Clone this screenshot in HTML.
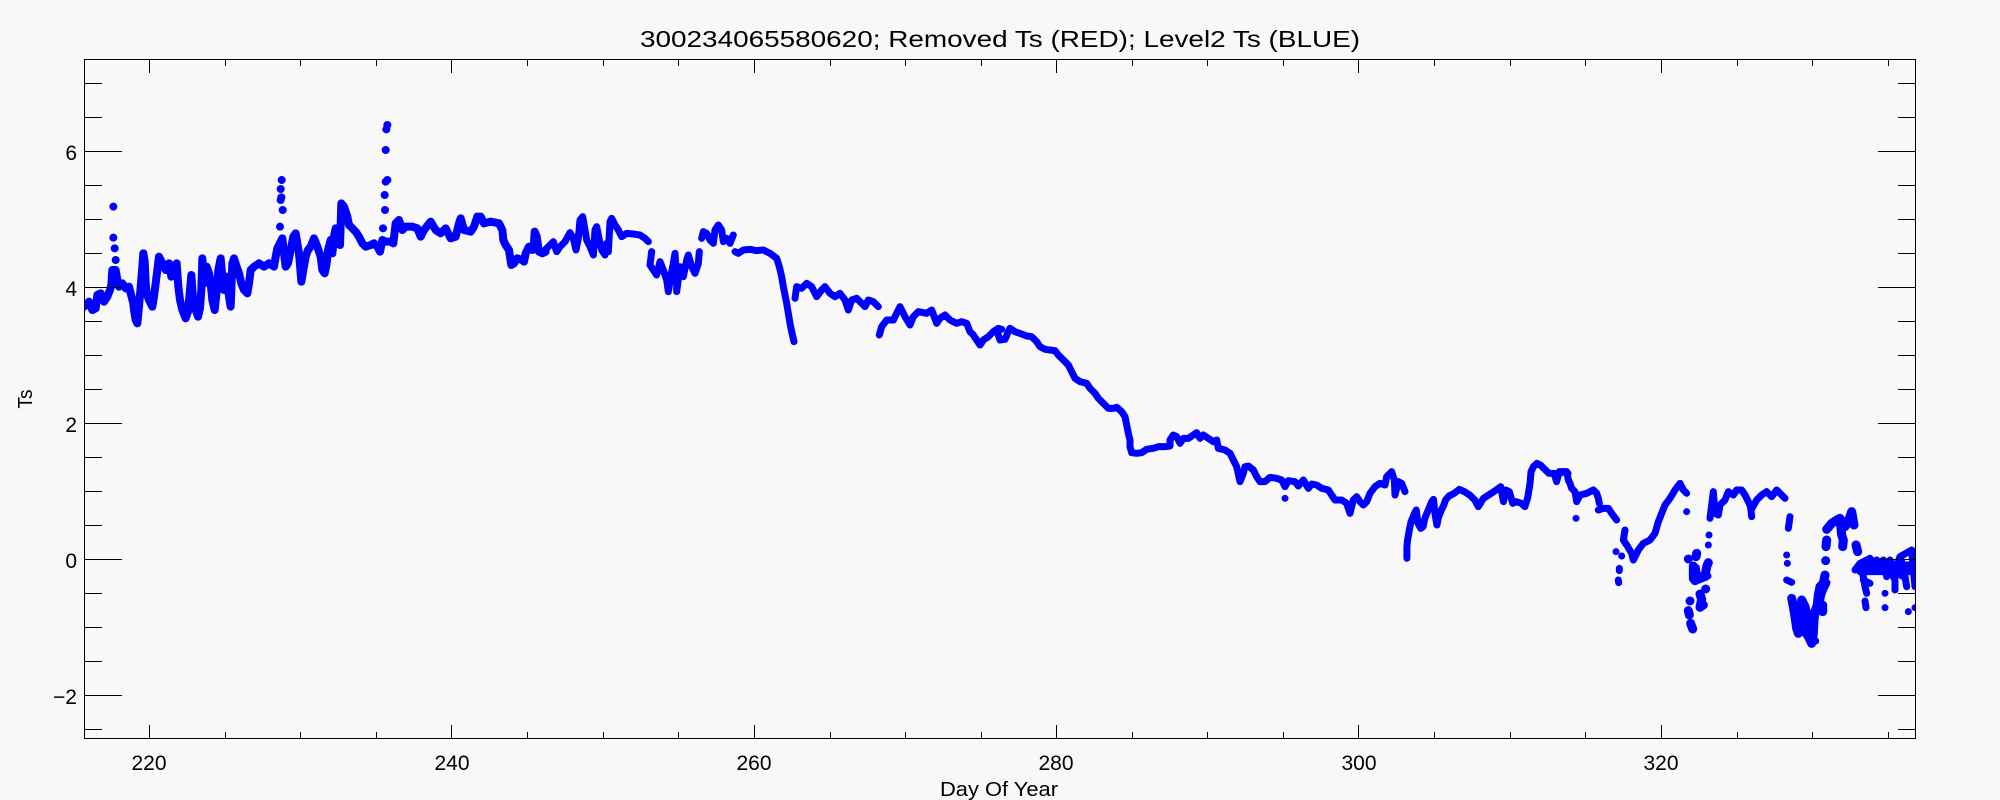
<!DOCTYPE html>
<html>
<head>
<meta charset="utf-8">
<style>
html,body{margin:0;padding:0;background:#f8f8f8;}
svg{display:block;}
text{font-family:"Liberation Sans",sans-serif;fill:#000;}
.d{fill:none;stroke:#0000ff;stroke-width:7;stroke-linecap:round;stroke-linejoin:round;}
.d8{fill:none;stroke:#0000ff;stroke-width:8;stroke-linecap:round;stroke-linejoin:round;}
.d9{fill:none;stroke:#0000ff;stroke-width:9;stroke-linecap:round;stroke-linejoin:round;}
</style>
</head>
<body>
<svg width="2000" height="800" viewBox="0 0 2000 800" xmlns="http://www.w3.org/2000/svg">
<defs>
<clipPath id="pc"><rect x="84" y="59" width="1832" height="680"/></clipPath>
</defs>
<rect x="0" y="0" width="2000" height="800" fill="#f8f8f8"/>

<text x="1000" y="47" font-size="23" text-anchor="middle" textLength="720" lengthAdjust="spacingAndGlyphs">300234065580620; Removed Ts (RED); Level2 Ts (BLUE)</text>

<g clip-path="url(#pc)">
<!-- segment 1 -->
<g transform="translate(84,110) scale(0.33333,0.33333)">
<path class="d8" vector-effect="non-scaling-stroke" d="M0,590 L15,575 25,600 35,595 40,555 50,550 60,575 70,560 78,540 82,525 85,480 95,480 100,510 105,530 115,520 125,535 135,530 140,550 148,580 150,600 155,630 160,640 165,590 170,530 175,470 178,430 182,455 185,520 188,550 195,570 200,580 205,590 210,560 215,520 220,480 225,440 235,460 245,480 255,460 262,500 270,480 278,460 283,530 288,570 295,600 305,625 312,605 318,540 322,495 328,580 335,600 342,620 348,595 352,540 355,445 360,520 368,470 375,490 380,520 385,570 392,600 398,545 403,480 410,445 415,500 420,540 428,500 435,560 440,590 445,460 450,445 458,470 465,490 472,520 480,540 490,550 495,520 500,480 510,470 525,460 540,470 555,460 570,470 575,440 580,415 595,385 600,430 605,470 612,460 620,420 628,380 635,370 640,400 645,430 650,490 652,515 658,480 665,440 672,420 680,410 690,385 700,410 710,440 715,480 722,490 728,460 732,420 740,390 745,430 750,380 755,355 762,380 768,405 772,280 780,290 790,320 795,345 805,355 815,365 825,380 835,400 845,410 860,405 870,400 880,410 888,425 895,390 905,395 920,395 928,400 935,340 945,330 955,360 965,350 985,350 1000,355 1010,380 1020,360 1040,335 1055,360 1070,370 1085,355 1100,385 1115,380 1125,340 1130,325 1140,360 1160,365 1170,350 1180,320 1190,320 1200,340 1220,335 1245,340 1255,360 1258,390 1265,405 1275,420 1278,440 1282,465 1290,460 1300,445 1315,450 1320,455 1325,430 1335,410 1345,420 1350,400 1352,365 1358,380 1365,425 1375,430 1385,425
M88,290h0.1 M88,383h0.1 M92,415h0.1 M95,450h0.1
M588,350h0.1 M590,270h0.1 M592,262h0.1 M590,237h0.1 M593,210h0.1 M596,300h0.1
M897,355h0.1 M902,255h0.1 M903,300h0.1 M905,215h0.1 M910,210h0.1 M905,120h0.1 M907,58h0.1 M910,45h0.1"/>
</g>
<!-- segment 2 -->
<g transform="translate(540,180) scale(0.33333,0.33333)">
<path class="d" vector-effect="non-scaling-stroke" d="M10,215 L25,200 40,185 50,215 60,200 75,185 90,158 100,175 108,210 115,175 120,120 128,110 135,150 140,180 150,200 160,225 165,150 170,140 178,180 185,210 195,225 200,190 205,215 210,125 215,115 225,135 235,150 245,170 260,160 280,162 300,165 315,175 325,185
M335,215 L330,255 340,270 350,285 360,245 370,270 380,300 385,335 392,290 400,250 405,220 410,300 410,335 420,260 430,290 440,240 445,225 455,260 465,280 475,250 478,215
M485,175 L490,155 500,160 510,180 520,190 525,150 535,135 545,150 550,185 560,175 570,190 580,165
M585,215 L595,220 610,210 630,208 650,212 670,210 690,220 710,235 718,260 725,290 730,320 735,345 740,370 745,400 750,430 755,455 762,485
M765,355 L770,320 785,325 800,310 815,320 830,350 845,330 855,320 870,340 885,350 900,340 915,360 925,390 935,360 950,355 965,370 975,380 985,360 1000,365 1015,380
M1018,465 L1025,440 1040,420 1060,420 1070,400 1080,380 1095,410 1110,435 1120,410 1135,395 1160,400 1175,390 1190,430 1200,415 1215,405 1230,420 1250,430 1265,425 1280,430 1290,455 1300,465 1310,480 1320,495 1330,480 1345,470 1360,455 1375,445 1385,448"/>
</g>
<!-- segment 3 -->
<g transform="translate(995,310) scale(0.33333,0.33333)">
<path class="d" vector-effect="non-scaling-stroke" d="M5,60 L15,90 30,88 40,65 45,55 60,65 80,72 95,78 110,80 125,95 135,110 150,118 165,120 180,122 190,135 205,150 220,165 230,185 240,205 255,215 275,220 285,235 300,250 310,265 325,280 340,295 355,295 365,292 380,305 390,320 395,345 400,370 405,390 405,410 410,428 425,430 440,428 455,418 475,415 490,410 510,410 525,408 525,390 535,375 545,380 555,400 565,385 580,385 595,375 605,368 615,385 625,375 640,385 655,395 665,390 670,415 690,420 705,430 715,450 725,470 735,515 745,490 750,470 760,468 775,480 785,500 795,515 810,515 825,502 845,505 860,510 870,530 880,512 900,515 910,528 925,510 940,535 950,522 965,525 980,535 1000,540 1010,555 1020,570 1040,570 1055,580 1065,610 1075,570 1085,560 1095,575 1105,585 1115,575 1125,550 1140,530 1155,520 1170,525 1175,500 1190,485 1198,510 1200,555 1210,515 1220,520 1230,545
M870,565h0.1"/>
</g>
<!-- segment 4 -->
<g transform="translate(1380,440) scale(0.34483,0.33333)">
<path class="d" vector-effect="non-scaling-stroke" d="M78,355 L78,320 80,300 85,270 90,245 100,220 105,210 110,250 118,265 125,260 130,235 140,210 150,185 155,178 160,225 165,255 170,230 178,210 185,195 190,180 200,168 215,160 230,148 245,155 260,165 275,180 285,200 300,175 315,165 330,155 350,140 358,185 365,150 375,155 385,190 395,185 410,190 420,200 428,175 432,150 435,130 438,95 445,80 455,70 465,75 475,85 490,100 505,100 512,125 520,95 535,95 545,100"/>
</g>
<!-- segment 5 -->
<g transform="translate(1560,440) scale(0.33333,0.33333)">
<path class="d" vector-effect="non-scaling-stroke" d="M0,100 L10,95 20,95 25,120 30,130 35,145 45,155 50,185 60,165 80,160 100,150 110,160 115,175 118,190 M115,210 L130,205 145,205 155,220 170,240
M48,235h0.1
M195,270 L190,300 200,315 215,340 220,360 235,330 250,310 270,300 285,280 295,245 305,220 315,195 330,175 345,150 360,130 370,150 380,160
M380,215h0.1
M168,335h0.1 M185,348h0.1 M178,385 L178,392 M175,420 L176,428
M445,315h0.1 M447,285h0.1 M450,235 L455,195 460,155 465,220 475,225 480,195 495,180 505,155 520,165 530,150 545,150 555,165 570,195 573,210 575,230 M573,210 L590,180 605,165 620,155 635,170 650,150 665,165 675,175
M690,230 L685,265 M680,345h0.1 M682,370h0.1 M680,420 L695,427
M885,390 L900,370 910,410 915,440 920,460 M915,483 L918,503
M900,370 L930,355 950,380 970,360 980,410 M975,460h0.1 M975,503h0.1
M930,380 L950,360 970,385 990,360 1005,390 1020,350 1030,380 1040,440 M1045,515h0.1
M995,400 L1005,420 1005,450 M1020,350 L1055,330 1060,390 1065,440 M1065,503h0.1
M900,395 L1068,395 M905,375 L1068,375 M910,420 L930,430 M1010,400 L1030,410"/>
<path class="d9" vector-effect="non-scaling-stroke" d="M385,357h0.1 M410,340 L408,350 M400,378 L400,415 405,422 420,410 435,410 440,380 445,368 M437,447h0.1 M420,462 L425,478 420,502 430,495 M390,483h0.1 M385,512 L388,525 M392,550 L398,567
M695,475 L700,500 705,530 710,565 715,580 720,540 725,480 735,500 745,540 740,580 750,600 755,610 760,580 762,540 765,515 772,495 775,465 780,440 790,430 795,405 M788,495 L788,515 M797,362h0.1 M798,320 L800,300 M800,268 L815,250 830,240 840,235 845,285 850,300 848,320 M840,235 L855,260 865,245 875,215 882,255 M888,315 L893,335"/>
<path class="d" vector-effect="non-scaling-stroke" transform="translate(9,3)" d="M400,380 L405,418 420,412 435,405 M700,505 L708,560 718,575 M738,520 L748,590 758,600 M765,510 L778,455 792,425"/>
</g>
</g>

<!-- frame -->
<rect x="84.5" y="59.5" width="1831" height="679" fill="none" stroke="#000" stroke-width="1"/>

<!-- ticks -->
<path stroke="#000" stroke-width="1" fill="none" d="
M149.5,739V725 M451.5,739V725 M754.5,739V725 M1056.5,739V725 M1358.5,739V725 M1661.5,739V725
M149.5,59V73 M451.5,59V73 M754.5,59V73 M1056.5,59V73 M1358.5,59V73 M1661.5,59V73
M225.5,739V732 M300.5,739V732 M376.5,739V732 M527.5,739V732 M603.5,739V732 M678.5,739V732 M830.5,739V732 M905.5,739V732 M981.5,739V732 M1132.5,739V732 M1207.5,739V732 M1283.5,739V732 M1434.5,739V732 M1510.5,739V732 M1585.5,739V732 M1737.5,739V732 M1812.5,739V732 M1888.5,739V732
M225.5,59V66 M300.5,59V66 M376.5,59V66 M527.5,59V66 M603.5,59V66 M678.5,59V66 M830.5,59V66 M905.5,59V66 M981.5,59V66 M1132.5,59V66 M1207.5,59V66 M1283.5,59V66 M1434.5,59V66 M1510.5,59V66 M1585.5,59V66 M1737.5,59V66 M1812.5,59V66 M1888.5,59V66
M84,151.5H122 M84,287.5H122 M84,423.5H122 M84,559.5H122 M84,695.5H122
M1916,151.5H1878 M1916,287.5H1878 M1916,423.5H1878 M1916,559.5H1878 M1916,695.5H1878
M84,83.5H102 M84,117.5H102 M84,185.5H102 M84,219.5H102 M84,253.5H102 M84,321.5H102 M84,355.5H102 M84,389.5H102 M84,457.5H102 M84,491.5H102 M84,525.5H102 M84,593.5H102 M84,627.5H102 M84,661.5H102 M84,729.5H102
M1916,83.5H1898 M1916,117.5H1898 M1916,185.5H1898 M1916,219.5H1898 M1916,253.5H1898 M1916,321.5H1898 M1916,355.5H1898 M1916,389.5H1898 M1916,457.5H1898 M1916,491.5H1898 M1916,525.5H1898 M1916,593.5H1898 M1916,627.5H1898 M1916,661.5H1898 M1916,729.5H1898
"/>

<!-- y tick labels -->
<g font-size="21" text-anchor="end">
<text x="77" y="160">6</text>
<text x="77" y="296">4</text>
<text x="77" y="432">2</text>
<text x="77" y="568">0</text>
<text x="77" y="704">−2</text>
</g>
<!-- x tick labels -->
<g font-size="21" text-anchor="middle">
<text x="149" y="770">220</text>
<text x="452" y="770">240</text>
<text x="754" y="770">260</text>
<text x="1056" y="770">280</text>
<text x="1359" y="770">300</text>
<text x="1661" y="770">320</text>
</g>

<text x="999" y="796" font-size="20" text-anchor="middle" textLength="118" lengthAdjust="spacingAndGlyphs">Day Of Year</text>
<text transform="translate(32,399) rotate(-90)" x="0" y="0" font-size="20" text-anchor="middle" textLength="19" lengthAdjust="spacingAndGlyphs">Ts</text>
</svg>
</body>
</html>
